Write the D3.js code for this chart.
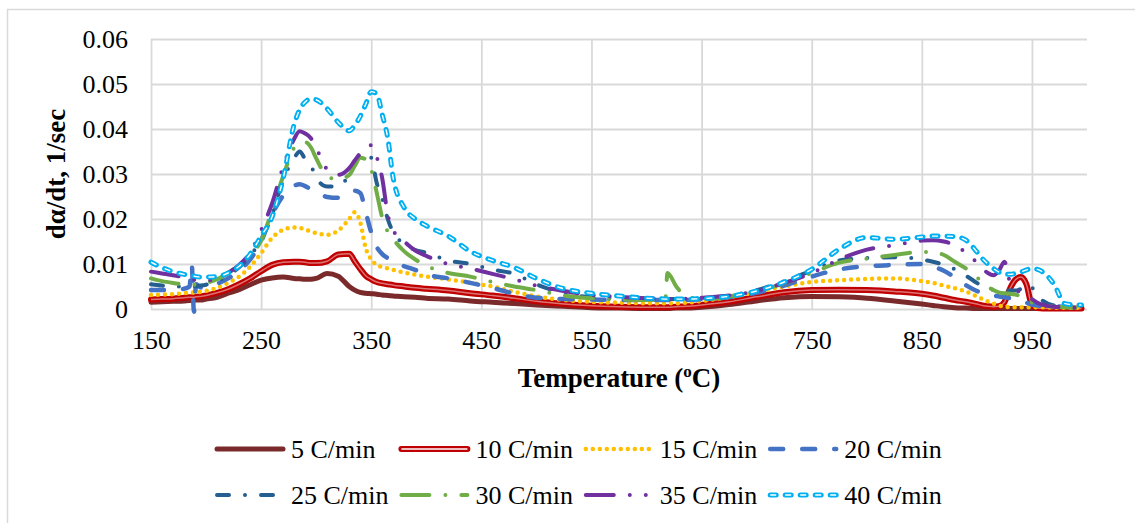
<!DOCTYPE html>
<html>
<head>
<meta charset="utf-8">
<script src="https://cdn.jsdelivr.net/npm/d3@7"></script>
<style>
  body { margin: 0; background: #fff; }
  svg { display: block; font-family: 'Liberation Serif', 'Times New Roman', serif; }
  text { font-family: 'Liberation Serif', 'Times New Roman', serif; }
</style>
</head>
<body>
<svg id="chart" width="1135" height="523"></svg>
<script>
// Sample temperatures (°C) shared by every heating-rate curve
const temperature = [
  150,160,170,180,185,187,189,191,195,200,
  210,220,230,240,250,260,270,280,285,290,
  295,300,310,320,330,335,340,345,350,355,
  360,365,370,380,390,400,420,440,460,480,
  500,525,550,575,600,612,617,619,627,636,
  650,675,700,725,750,775,800,825,850,860,
  870,880,890,900,905,910,915,920,925,930,
  935,940,945,950,955,960,970,980,990,995
];

// Conversion rate dα/dt (1/sec) for each heating rate
const rate5 = [
  .0015,.0016,.0017,.0018,.0019,.0019,.0019,.0020,.0020,.0022,
  .0026,.0035,.0043,.0054,.0064,.0069,.0071,.0068,.0067,.0066,
  .0066,.0068,.0079,.0073,.0050,.0042,.0037,.0035,.0034,.0033,
  .0031,.0030,.0029,.0027,.0026,.0024,.0022,.0018,.0015,.0012,
  .0009,.0006,.0003,.0002,.0001,.0001,.0001,.0001,.0002,.0002,
  .0004,.0010,.0018,.0025,.0028,.0027,.0024,.0018,.0011,.0008,
  .0005,.0003,.0002,.0001,.0001,.0001,.0001,.0001,.0001,.0001,
  .0001,.0001,.0001,.0001,.0001,.0001,.0001,.0001,.0001,.0001
];
const rate10 = [
  .0021,.0022,.0023,.0025,.0026,.0026,.0026,.0027,.0028,.0030,
  .0036,.0044,.0055,.0068,.0084,.0098,.0104,.0105,.0105,.0104,
  .0102,.0102,.0106,.0121,.0123,.0106,.0089,.0074,.0066,.0060,
  .0057,.0055,.0053,.0050,.0047,.0045,.0041,.0035,.0030,.0024,
  .0017,.0011,.0007,.0005,.0004,.0004,.0004,.0004,.0005,.0006,
  .0009,.0016,.0027,.0037,.0042,.0043,.0042,.0039,.0034,.0030,
  .0025,.0020,.0016,.0011,.0008,.0006,.0005,.0006,.0015,.0045,
  .0065,.0071,.0055,.0008,.0002,.0001,.0001,.0001,.0001,.0001
];
const rate15 = [
  .0031,.0032,.0033,.0035,.0036,.0036,.0037,.0037,.0038,.0040,
  .0047,.0058,.0072,.0094,.0124,.0158,.0176,.0181,.0180,.0177,
  .0172,.0169,.0165,.0174,.0200,.0215,.0193,.0135,.0110,.0098,
  .0093,.0090,.0087,.0081,.0076,.0072,.0066,.0058,.0050,.0038,
  .0028,.0020,.0016,.0014,.0013,.0013,.0013,.0013,.0013,.0014,
  .0018,.0026,.0038,.0050,.0060,.0064,.0067,.0068,.0062,.0058,
  .0052,.0046,.0039,.0028,.0022,.0017,.0012,.0008,.0005,.0004,
  .0004,.0004,.0004,.0004,.0004,.0004,.0003,.0003,.0003,.0003
];
const rate20 = [
  .0042,.0042,.0043,.0045,.0050,.0098,-.0006,.0055,.0048,.0049,
  .0056,.0068,.0085,.0110,.0150,.0210,.0252,.0274,.0277,.0273,
  .0266,.0260,.0249,.0247,.0258,.0263,.0258,.0215,.0170,.0138,
  .0122,.0113,.0106,.0095,.0087,.0077,.0068,.0058,.0047,.0034,
  .0025,.0022,.0021,.0020,.0020,.0020,.0020,.0020,.0020,.0020,
  .0022,.0026,.0036,.0052,.0072,.0088,.0095,.0098,.0100,.0094,
  .0085,.0070,.0053,.0040,.0036,.0032,.0030,.0028,.0026,.0024,
  .0022,.0018,.0014,.0010,.0008,.0007,.0006,.0005,.0005,.0005
];
const rate25 = [
  .0055,.0052,.0050,.0050,.0050,.0050,.0050,.0051,.0052,.0054,
  .0062,.0075,.0093,.0118,.0155,.0210,.0287,.0335,.0350,.0333,
  .0320,.0292,.0272,.0272,.0300,.0325,.0342,.0348,.0336,.0280,
  .0245,.0200,.0170,.0145,.0131,.0125,.0108,.0100,.0088,.0078,
  .0055,.0035,.0026,.0023,.0022,.0022,.0022,.0022,.0022,.0022,
  .0024,.0030,.0042,.0062,.0085,.0108,.0113,.0115,.0110,.0105,
  .0098,.0088,.0074,.0058,.0050,.0045,.0043,.0042,.0042,.0041,
  .0041,.0045,.0055,.0048,.0030,.0018,.0008,.0006,.0005,.0005
];
const rate30 = [
  .0068,.0062,.0058,.0055,.0054,.0054,.0054,.0055,.0056,.0058,
  .0066,.0080,.0097,.0120,.0152,.0220,.0295,.0358,.0368,.0371,
  .0360,.0335,.0295,.0288,.0298,.0318,.0336,.0333,.0310,.0258,
  .0203,.0172,.0155,.0128,.0110,.0096,.0080,.0072,.0060,.0050,
  .0042,.0030,.0024,.0021,.0020,.0020,.0021,.0080,.0050,.0028,
  .0022,.0028,.0040,.0057,.0080,.0103,.0112,.0120,.0127,.0126,
  .0120,.0105,.0090,.0070,.0060,.0050,.0042,.0037,.0035,.0034,
  .0032,.0028,.0022,.0014,.0010,.0008,.0005,.0004,.0003,.0003
];
const rate35 = [
  .0083,.0079,.0075,.0070,.0067,.0066,.0065,.0064,.0063,.0063,
  .0068,.0080,.0098,.0125,.0175,.0235,.0316,.0378,.0395,.0390,
  .0380,.0358,.0310,.0298,.0313,.0330,.0346,.0358,.0364,.0338,
  .0290,.0210,.0175,.0150,.0130,.0118,.0100,.0090,.0078,.0066,
  .0052,.0040,.0031,.0027,.0024,.0023,.0022,.0022,.0022,.0023,
  .0025,.0030,.0040,.0058,.0080,.0110,.0132,.0142,.0152,.0153,
  .0150,.0142,.0125,.0103,.0090,.0080,.0075,.0085,.0105,.0060,
  .0045,.0036,.0028,.0022,.0014,.0009,.0005,.0004,.0003,.0003
];
const rate40 = [
  .0104,.0092,.0083,.0077,.0075,.0074,.0073,.0072,.0071,.0071,
  .0072,.0080,.0095,.0122,.0162,.0205,.0290,.0410,.0443,.0460,
  .0467,.0465,.0445,.0415,.0396,.0408,.0428,.0455,.0483,.0478,
  .0432,.0380,.0290,.0225,.0200,.0185,.0162,.0128,.0108,.0092,
  .0068,.0045,.0035,.0029,.0024,.0023,.0022,.0022,.0022,.0022,
  .0023,.0028,.0040,.0060,.0088,.0133,.0159,.0155,.0160,.0162,
  .0162,.0161,.0153,.0127,.0112,.0100,.0090,.0082,.0077,.0077,
  .0079,.0082,.0087,.0090,.0088,.0082,.0055,.0012,.0009,.0009
];

const seriesNames = ["5 C/min", "10 C/min", "15 C/min", "20 C/min",
                     "25 C/min", "30 C/min", "35 C/min", "40 C/min"];
const seriesValues = [rate5, rate10, rate15, rate20, rate25, rate30, rate35, rate40];

const xTicks = [150, 250, 350, 450, 550, 650, 750, 850, 950];
const yTicks = [0, 0.01, 0.02, 0.03, 0.04, 0.05, 0.06];

// Stroke appearance for each curve (inner = white core of a double line)
const lineStyles = [
  { color: "#7a2a2a", width: 5,   dash: null,              cap: "round" },
  { color: "#c00000", width: 6,   dash: null,              cap: "round", inner: 1.5, innerOpacity: 0.45 },
  { color: "#ffc000", width: 4.5, dash: "0,7",             cap: "round" },
  { color: "#4472c4", width: 4.5, dash: "13,19",           cap: "round" },
  { color: "#255e91", width: 4,   dash: "12,16,0,16",      cap: "round" },
  { color: "#70ad47", width: 4,   dash: "28,16,0,16",      cap: "round" },
  { color: "#7030a0", width: 4,   dash: "28,16,0,16,0,16", cap: "round" },
  { color: "#00b0f0", width: 5,   dash: "6,9",             cap: "round", inner: 1.4, innerOpacity: 1 }
];

const FONT = "'Liberation Serif', 'Times New Roman', serif";
const plot = { left: 151, right: 1087, top: 39, bottom: 309 };
const gridColor = "#d9d9d9";

const svg = d3.select("#chart");

// chart frame
svg.append("rect")
  .attr("x", 7.5).attr("y", 9.5)
  .attr("width", 1140).attr("height", 530)
  .attr("fill", "#fff")
  .attr("stroke", gridColor).attr("stroke-width", 1.5);

const x = d3.scaleLinear().domain([150, 1000]).range([plot.left, plot.right]);
const y = d3.scaleLinear().domain([0, 0.06]).range([plot.bottom, plot.top]);

// y axis with horizontal gridlines
const yAxis = svg.append("g")
  .attr("transform", `translate(${plot.left},0)`)
  .call(d3.axisLeft(y)
    .tickValues(yTicks)
    .tickSize(-(plot.right - plot.left))
    .tickPadding(23)
    .tickFormat(d => d === 0 ? "0" : d3.format(".2f")(d)));
yAxis.attr("font-family", FONT);
yAxis.select(".domain").remove();
yAxis.selectAll(".tick line").attr("stroke", gridColor).attr("stroke-width", 1.8);
yAxis.selectAll(".tick text")
  .attr("font-family", FONT)
  .attr("font-size", 26).attr("fill", "#000");

// x axis with vertical gridlines
const xAxis = svg.append("g")
  .attr("transform", `translate(0,${plot.bottom})`)
  .call(d3.axisBottom(x)
    .tickValues(xTicks)
    .tickSize(-(plot.bottom - plot.top))
    .tickFormat(d3.format("d")));
xAxis.attr("font-family", FONT);
xAxis.select(".domain").remove();
xAxis.selectAll(".tick line").attr("stroke", gridColor).attr("stroke-width", 1.8);
xAxis.selectAll(".tick text")
  .attr("y", 40).attr("dy", null)
  .attr("font-family", FONT)
  .attr("font-size", 26).attr("fill", "#000");

// axis titles
const xTitle = svg.append("text")
  .attr("x", (plot.left + plot.right) / 2).attr("y", 387)
  .attr("text-anchor", "middle")
  .attr("font-family", FONT)
  .attr("font-size", 27).attr("font-weight", "bold");
xTitle.append("tspan").text("Temperature (");
xTitle.append("tspan").attr("font-size", 17).attr("dy", -10).text("o");
xTitle.append("tspan").attr("dy", 10).text("C)");

svg.append("text")
  .attr("transform", `translate(65,${(plot.top + plot.bottom) / 2}) rotate(-90)`)
  .attr("text-anchor", "middle")
  .attr("font-family", FONT)
  .attr("font-size", 27).attr("font-weight", "bold")
  .text("dα/dt, 1/sec");

// curves
const line = d3.line()
  .x(d => x(d.t))
  .y(d => y(d.v))
  .curve(d3.curveMonotoneX);

const series = seriesNames.map((name, i) => ({
  name,
  style: lineStyles[i],
  points: temperature.map((t, j) => ({ t, v: seriesValues[i][j] }))
}));

function strokeLine(sel, s) {
  sel.attr("fill", "none")
    .attr("stroke", s.color)
    .attr("stroke-width", s.width)
    .attr("stroke-linecap", s.cap)
    .attr("stroke-linejoin", "round")
    .attr("stroke-dasharray", s.dash);
}
function innerLine(sel, s, opacity) {
  sel.attr("fill", "none")
    .attr("stroke", "#fff")
    .attr("stroke-opacity", opacity)
    .attr("stroke-width", s.inner)
    .attr("stroke-linecap", "butt")
    .attr("stroke-linejoin", "round")
    .attr("stroke-dasharray", s.dash);
}

const curves = svg.append("g");
series.forEach(sr => {
  curves.append("path").datum(sr.points).attr("d", line).call(strokeLine, sr.style);
  if (sr.style.inner) {
    curves.append("path").datum(sr.points).attr("d", line)
      .call(innerLine, sr.style, sr.style.innerOpacity);
  }
});

// legend: two rows of four entries
const legend = svg.append("g").attr("font-family", FONT);
series.forEach((sr, i) => {
  const col = i % 4, row = Math.floor(i / 4);
  const lx = 215 + col * 184.4;
  const ly = 449 + row * 46;
  const g = legend.append("g");
  g.append("line").attr("x1", lx + 2).attr("x2", lx + 68).attr("y1", ly).attr("y2", ly)
    .call(strokeLine, sr.style);
  if (sr.style.inner) {
    g.append("line").attr("x1", lx + 2).attr("x2", lx + 68).attr("y1", ly).attr("y2", ly)
      .call(innerLine, sr.style, 1);
  }
  g.append("text").attr("x", lx + 76).attr("y", ly).attr("dy", "0.35em")
    .attr("font-family", FONT)
    .attr("font-size", 26).attr("fill", "#000").text(sr.name);
});
</script>
</body>
</html>
